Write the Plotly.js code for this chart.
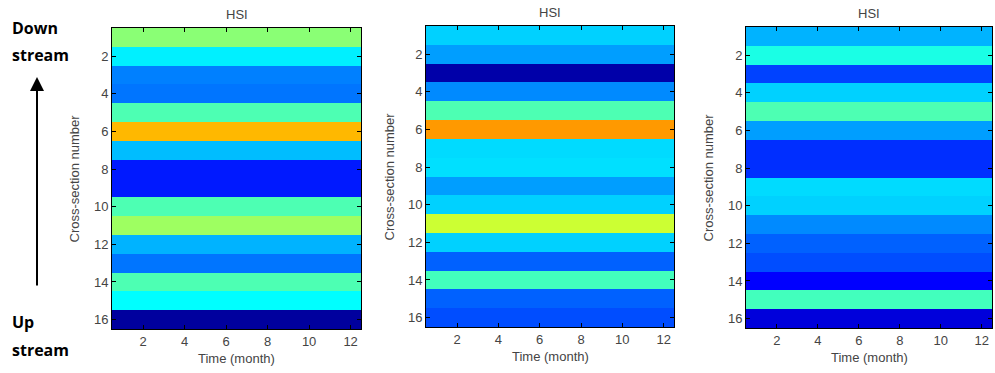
<!DOCTYPE html>
<html>
<head>
<meta charset="utf-8">
<script src="https://cdn.plot.ly/plotly-3.0.1.min.js"></script>
<style>html,body{margin:0;padding:0;background:#fff;}#chart{width:995px;height:373px;}</style>
</head>
<body>
<div id="chart"></div>
<script>
// Time (months) and cross-section numbers
const months = [1,2,3,4,5,6,7,8,9,10,11,12];
const sections = [1,2,3,4,5,6,7,8,9,10,11,12,13,14,15,16];
const xTicks = [2,4,6,8,10,12];
const yTicks = [2,4,6,8,10,12,14,16];

// HSI per cross-section (normalised 0-1, constant over months)
const hsiPanel1 = [0.51,0.36,0.25,0.24,0.45,0.695,0.31,0.15,0.15,0.45,0.53,0.30,0.24,0.45,0.375,0.03];
const hsiPanel2 = [0.33,0.28,0.04,0.26,0.45,0.725,0.34,0.345,0.28,0.33,0.575,0.33,0.22,0.44,0.22,0.20];
const hsiPanel3 = [0.30,0.40,0.19,0.33,0.45,0.28,0.17,0.17,0.34,0.33,0.26,0.22,0.20,0.125,0.44,0.09];

const jet = [
  [0,'rgb(0,0,128)'],[0.125,'rgb(0,0,255)'],[0.375,'rgb(0,255,255)'],
  [0.625,'rgb(255,255,0)'],[0.875,'rgb(255,0,0)'],[1,'rgb(128,0,0)']
];

function grid(rows){ return rows.map(v => months.map(() => v)); }

const panels = [hsiPanel1, hsiPanel2, hsiPanel3];
const traces = panels.map((p,i) => ({
  type:'heatmap', x: months, y: sections, z: grid(p),
  colorscale: jet, zmin:0, zmax:1, showscale:false,
  xaxis: i===0?'x':'x'+(i+1), yaxis: i===0?'y':'y'+(i+1), hoverinfo:'skip'
}));

const tickFont = {family:'Liberation Sans, Arial, sans-serif', size:13, color:'#444'};
function xa(domain, anchor){
  return {domain, anchor, range:[0.5,12.5], tickvals:xTicks, ticks:'inside', ticklen:4,
    tickcolor:'#000', showline:true, linecolor:'#000', linewidth:1, mirror:'ticks',
    showgrid:false, zeroline:false, tickfont:tickFont, fixedrange:true};
}
function ya(domain, anchor){
  return {domain, anchor, range:[16.5,0.5], tickvals:yTicks, ticks:'inside', ticklen:4,
    tickcolor:'#000', showline:true, linecolor:'#000', linewidth:1, mirror:'ticks',
    showgrid:false, zeroline:false, tickfont:tickFont, fixedrange:true};
}

const d1x=[112/995,361/995], d1y=[1-329/373,1-28/373];
const d2x=[426/995,674/995], d2y=[1-327/373,1-26/373];
const d3x=[746/995,992/995], d3y=[1-328/373,1-27/373];

const lblFont = {family:'Liberation Sans, Arial, sans-serif', size:13, color:'#444'};
const sideFont = {family:'Open Sans, Liberation Sans, sans-serif', size:16, color:'#000'};
const anns = [];
[[d1x,d1y,74],[d2x,d2y,389],[d3x,d3y,708]].forEach(([dx,dy,ylx]) => {
  const cx = (dx[0]+dx[1])/2;
  anns.push({text:'HSI', xref:'paper', yref:'paper', x:cx, y:dy[1], yshift:4, yanchor:'bottom', xanchor:'center', showarrow:false, font:lblFont});
  anns.push({text:'Time (month)', xref:'paper', yref:'paper', x:cx, y:dy[0], yshift:-20, yanchor:'top', xanchor:'center', showarrow:false, font:lblFont});
  anns.push({text:'Cross-section number', xref:'paper', yref:'paper', x:ylx/995, y:(dy[0]+dy[1])/2, textangle:-90, xanchor:'center', yanchor:'middle', showarrow:false, font:lblFont});
});
anns.push({text:'<b>Down</b>', xref:'paper', yref:'paper', x:10/995, y:1-28/373, xanchor:'left', yanchor:'middle', showarrow:false, font:sideFont});
anns.push({text:'<b>stream</b>', xref:'paper', yref:'paper', x:10/995, y:1-55/373, xanchor:'left', yanchor:'middle', showarrow:false, font:sideFont});
anns.push({text:'<b>Up</b>', xref:'paper', yref:'paper', x:10/995, y:1-322/373, xanchor:'left', yanchor:'middle', showarrow:false, font:sideFont});
anns.push({text:'<b>stream</b>', xref:'paper', yref:'paper', x:10/995, y:1-350/373, xanchor:'left', yanchor:'middle', showarrow:false, font:sideFont});
anns.push({text:'', xref:'paper', yref:'paper', x:37/995, y:1-77/373, ax:37/995, ay:1-287/373, axref:'paper', ayref:'paper',
  showarrow:true, arrowhead:2, arrowsize:1.4, arrowwidth:2, arrowcolor:'#000'});

const layout = {
  width:995, height:373, margin:{l:0,r:0,t:0,b:0}, paper_bgcolor:'#fff', plot_bgcolor:'#fff',
  showlegend:false,
  xaxis: xa(d1x,'y'), yaxis: ya(d1y,'x'),
  xaxis2: xa(d2x,'y2'), yaxis2: ya(d2y,'x2'),
  xaxis3: xa(d3x,'y3'), yaxis3: ya(d3y,'x3'),
  annotations: anns
};
Plotly.newPlot('chart', traces, layout, {displayModeBar:false, staticPlot:true});
</script>
</body>
</html>
